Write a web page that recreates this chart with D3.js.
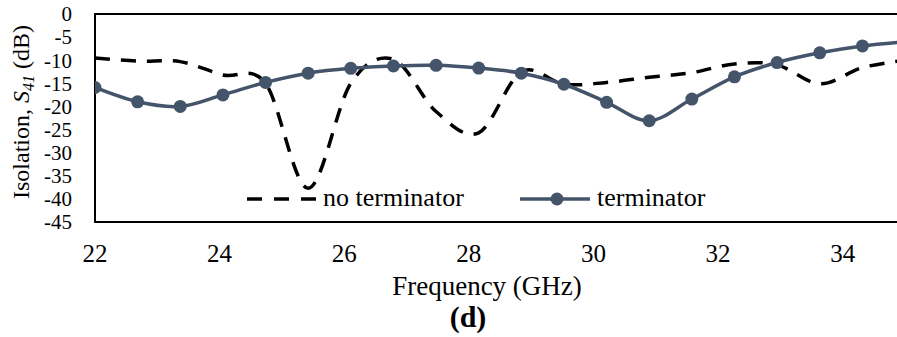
<!DOCTYPE html>
<html><head><meta charset="utf-8">
<script src="https://cdn.jsdelivr.net/npm/d3@7"></script>
<style>
html,body{margin:0;padding:0;background:#fff;}
svg{display:block;font-family:"Liberation Serif",serif;}
</style></head>
<body><svg id="c" width="897" height="337"></svg>
<script>
// Data
const freqs = [22, 22.684, 23.368, 24.053, 24.737, 25.421, 26.105, 26.789, 27.474, 28.158,
               28.842, 29.526, 30.211, 30.895, 31.579, 32.263, 32.947, 33.632, 34.316, 35];
const noTerminator = [-9.5, -10.2, -10.3, -13.2, -15.0, -37.7, -15.0, -9.8, -21.1, -25.7,
                      -12.5, -15.2, -14.8, -13.7, -12.7, -10.8, -11.0, -15.1, -11.6, -10.0];
const terminator = [-15.9, -19.0, -20.0, -17.5, -14.8, -12.8, -11.75, -11.25, -11.1, -11.7,
                    -12.8, -15.2, -19.1, -23.1, -18.4, -13.6, -10.5, -8.4, -6.9, -6.0];
const xTicks = [22, 24, 26, 28, 30, 32, 34];
const yTicks = [0, -5, -10, -15, -20, -25, -30, -35, -40, -45];
const seriesNames = ["no terminator", "terminator"];

const svg = d3.select("#c");
const L = 95, R = 905, T = 14, B = 222;
const x = d3.scaleLinear().domain([22, 35]).range([L, R]);
const y = d3.scaleLinear().domain([-45, 0]).range([B, T]);
const col = "#44546A";

svg.append("defs").append("clipPath").attr("id", "clip")
  .append("rect").attr("x", L).attr("y", 0).attr("width", R - L).attr("height", 337);

// frame
svg.append("path").attr("d", `M${R},${T}H${L}V${B}H${R}`)
  .attr("fill", "none").attr("stroke", "#000").attr("stroke-width", 2);

// y tick labels
svg.append("g").selectAll("text").data(yTicks).join("text")
  .attr("x", 72).attr("y", d => y(d)).attr("dy", "0.35em")
  .attr("text-anchor", "end").attr("font-size", 21).text(d => d);

// x tick labels
svg.append("g").selectAll("text").data(xTicks).join("text")
  .attr("x", d => x(d)).attr("y", 262)
  .attr("text-anchor", "middle").attr("font-size", 25).text(d => d);

const line = d3.line().curve(d3.curveCardinal.tension(0))
  .x((d, i) => x(freqs[i])).y(d => y(d));

const g = svg.append("g").attr("clip-path", "url(#clip)");
g.append("path").attr("d", line(noTerminator)).attr("fill", "none")
  .attr("stroke", "#000").attr("stroke-width", 3.5).attr("stroke-dasharray", "15,11");
g.append("path").attr("d", line(terminator)).attr("fill", "none")
  .attr("stroke", col).attr("stroke-width", 3.5);
g.selectAll("circle").data(terminator).join("circle")
  .attr("cx", (d, i) => x(freqs[i])).attr("cy", d => y(d)).attr("r", 6.5).attr("fill", col);

// legend
const lg = svg.append("g");
lg.append("line").attr("x1", 247).attr("x2", 318).attr("y1", 199).attr("y2", 199)
  .attr("stroke", "#000").attr("stroke-width", 3.5).attr("stroke-dasharray", "15,12");
lg.append("text").attr("x", 323).attr("y", 206).attr("font-size", 26).text(seriesNames[0]);
lg.append("line").attr("x1", 520).attr("x2", 590).attr("y1", 199).attr("y2", 199)
  .attr("stroke", col).attr("stroke-width", 3.5);
lg.append("circle").attr("cx", 557).attr("cy", 199).attr("r", 6.5).attr("fill", col);
lg.append("text").attr("x", 597).attr("y", 206).attr("font-size", 26).text(seriesNames[1]);

// axis titles
const yt = svg.append("text").attr("transform", "translate(29,112) rotate(-90)")
  .attr("text-anchor", "middle").attr("font-size", 24);
yt.append("tspan").text("Isolation, ");
yt.append("tspan").attr("font-style", "italic").text("S");
yt.append("tspan").attr("font-style", "italic").attr("font-size", 16).attr("dy", 5).text("41");
yt.append("tspan").attr("dy", -5).text(" (dB)");

svg.append("text").attr("x", 487).attr("y", 295).attr("text-anchor", "middle")
  .attr("font-size", 27).text("Frequency (GHz)");
svg.append("text").attr("x", 468).attr("y", 327).attr("text-anchor", "middle")
  .attr("font-size", 30).attr("font-weight", "bold").text("(d)");
</script></body></html>
